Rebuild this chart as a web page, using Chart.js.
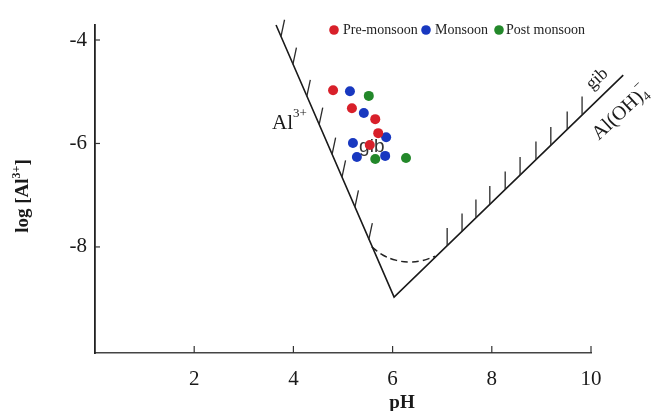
<!DOCTYPE html>
<html><head><meta charset="utf-8">
<script src="https://cdn.jsdelivr.net/npm/chart.js@4.4.1/dist/chart.umd.min.js"></script>
<style>html,body{margin:0;padding:0;background:#fff;}#wrap{width:657px;height:411px;position:relative;}</style>
</head><body><div id="wrap"><canvas id="c" width="657" height="411"></canvas></div>
<script>
// ---- data (pH, log[Al3+]) ----
const xTicks = [2, 4, 6, 8, 10];
const yTicks = [-8, -6, -4];
const boundaryPH  = [3.65, 6.03, 10.65];
const boundaryLog = [-3.71, -8.97, -4.68];
const curvePH  = [5.58, 5.81, 6.08, 6.35, 6.61, 6.86];
const curveLog = [-8.00, -8.16, -8.26, -8.29, -8.26, -8.18];
const hatchLeftPH  = [3.75, 3.99, 4.27, 4.52, 4.78, 4.98, 5.24, 5.52];
const hatchLeftLog = [-3.93, -4.47, -5.09, -5.63, -6.21, -6.65, -7.23, -7.86];
const hatchRightPH  = [7.10, 7.40, 7.68, 7.96, 8.27, 8.57, 8.89, 9.19, 9.52, 9.82];
const hatchRightLog = [-7.98, -7.70, -7.43, -7.17, -6.89, -6.61, -6.31, -6.03, -5.73, -5.44];
const preMonsoonPH  = [4.80, 5.18, 5.65, 5.71, 5.54];
const preMonsoonLog = [-4.97, -5.32, -5.53, -5.80, -6.03];
const monsoonPH  = [5.14, 5.42, 5.87, 5.20, 5.28, 5.85];
const monsoonLog = [-4.99, -5.41, -5.88, -5.99, -6.26, -6.24];
const postMonsoonPH  = [5.52, 5.65, 6.27];
const postMonsoonLog = [-5.08, -6.30, -6.28];
const seriesNames = ['Pre-monsoon', 'Monsoon', 'Post monsoon'];

// ---- styles ----
const SERIF = "'Liberation Serif','Times New Roman',serif";
const SANS = "'Liberation Sans',Arial,sans-serif";
const colors = ['#d8202a', '#1838c0', '#23882a'];
const pts = (xs, ys) => xs.map((x, i) => ({x: x, y: ys[i]}));

function drawParts(ctx, parts, x, y) {
  let cx = x;
  parts.forEach(p => {
    ctx.font = (p.bold ? 'bold ' : '') + p.size + 'px ' + (p.family || SERIF);
    ctx.fillText(p.t, cx, y + (p.dy || 0));
    if (!p.noAdvance) cx += ctx.measureText(p.t).width;
  });
  return cx - x;
}
function partsWidth(ctx, parts) {
  let w = 0;
  parts.forEach(p => { ctx.font = (p.bold ? 'bold ' : '') + p.size + 'px ' + (p.family || SERIF); if (!p.noAdvance) w += ctx.measureText(p.t).width; });
  return w;
}

const hatchPlugin = {
  id: 'hatch',
  afterDatasetsDraw(chart) {
    const ctx = chart.ctx;
    chart.data.datasets.forEach((d, i) => {
      if (!d.hatch) return;
      const meta = chart.getDatasetMeta(i);
      const a = d.hatch.angle * Math.PI / 180;
      ctx.save();
      ctx.strokeStyle = '#2a2a2a';
      ctx.lineWidth = 1.3;
      meta.data.forEach(pt => {
        ctx.beginPath();
        ctx.moveTo(pt.x, pt.y);
        ctx.lineTo(pt.x + Math.sin(a) * d.hatch.len, pt.y - Math.cos(a) * d.hatch.len);
        ctx.stroke();
      });
      ctx.restore();
    });
  }
};

const decoPlugin = {
  id: 'deco',
  beforeDatasetsDraw(chart) {
    const ctx = chart.ctx, xs = chart.scales.x, ys = chart.scales.y;
    ctx.save();
    ctx.fillStyle = '#333';
    ctx.textBaseline = 'middle';
    ctx.textAlign = 'center';
    ctx.font = '19px ' + SANS;
    ctx.fillText('gib', xs.getPixelForValue(5.58), ys.getPixelForValue(-6.07));
    ctx.restore();
  },
  afterDraw(chart) {
    const ctx = chart.ctx, xs = chart.scales.x, ys = chart.scales.y;
    const a = chart.chartArea;
    ctx.save();
    ctx.fillStyle = '#1a1a1a';
    ctx.strokeStyle = '#333';
    ctx.lineWidth = 1.2;
    xTicks.forEach(v => {
      const px = xs.getPixelForValue(v);
      ctx.beginPath(); ctx.moveTo(px, a.bottom); ctx.lineTo(px, a.bottom - 7); ctx.stroke();
    });
    yTicks.forEach(v => {
      const py = ys.getPixelForValue(v);
      ctx.beginPath(); ctx.moveTo(a.left, py); ctx.lineTo(a.left + 5, py); ctx.stroke();
    });
    ctx.textAlign = 'left';
    ctx.textBaseline = 'alphabetic';
    drawParts(ctx, [{t: 'Al', size: 21}, {t: '3+', size: 13, dy: -12}],
      xs.getPixelForValue(3.57), ys.getPixelForValue(-5.72));
    const ang = -42.8 * Math.PI / 180;
    ctx.save();
    ctx.translate(xs.getPixelForValue(10.12), ys.getPixelForValue(-4.75));
    ctx.rotate(ang);
    ctx.textAlign = 'center';
    ctx.font = '18px ' + SERIF;
    ctx.fillText('gib', 0, 5);
    ctx.restore();
    ctx.save();
    ctx.translate(xs.getPixelForValue(10.58), ys.getPixelForValue(-5.41));
    ctx.rotate(ang);
    const ohParts = [{t: 'Al(OH)', size: 20}, {t: '\u2212', size: 13, dy: -11, noAdvance: true}, {t: '4', size: 13, dy: 4}];
    const w = partsWidth(ctx, ohParts);
    drawParts(ctx, ohParts, -w / 2, 6);
    ctx.restore();
    ctx.save();
    ctx.translate(21, 196);
    ctx.rotate(-Math.PI / 2);
    const yt = [{t: 'log [Al', size: 19, bold: true}, {t: '3+', size: 12, bold: true, dy: -8}, {t: ']', size: 19, bold: true}];
    drawParts(ctx, yt, -partsWidth(ctx, yt) / 2, 7);
    ctx.restore();
    ctx.textAlign = 'center';
    ctx.font = 'bold 19px ' + SERIF;
    ctx.fillText('pH', 402, 408);
    const legendX = [[334, 343], [426, 435], [499, 506]];
    ctx.textAlign = 'left';
    ctx.font = '14px ' + SERIF;
    seriesNames.forEach((n, i) => {
      ctx.fillStyle = colors[i];
      ctx.beginPath(); ctx.arc(legendX[i][0], 30, 4.8, 0, Math.PI * 2); ctx.fill();
      ctx.fillStyle = '#222';
      ctx.fillText(n, legendX[i][1], 34);
    });
    ctx.restore();
  }
};

new Chart(document.getElementById('c'), {
  type: 'scatter',
  data: {
    datasets: [
      {label: 'Gibbsite boundary', data: pts(boundaryPH, boundaryLog), showLine: true, borderColor: '#1a1a1a', borderWidth: 1.6, pointRadius: 0, clip: false},
      {label: 'Dashed boundary', data: pts(curvePH, curveLog), showLine: true, borderColor: '#222', borderWidth: 1.5, borderDash: [7, 4], tension: 0.4, pointRadius: 0, clip: false},
      {label: 'hatch Al3+', data: pts(hatchLeftPH, hatchLeftLog), pointRadius: 0, hatch: {angle: 12, len: 17}, clip: false},
      {label: 'hatch Al(OH)4', data: pts(hatchRightPH, hatchRightLog), pointRadius: 0, hatch: {angle: 0, len: 18}, clip: false},
      {label: seriesNames[0], data: pts(preMonsoonPH, preMonsoonLog), pointRadius: 5, backgroundColor: colors[0], borderWidth: 0},
      {label: seriesNames[1], data: pts(monsoonPH, monsoonLog), pointRadius: 5, backgroundColor: colors[1], borderWidth: 0},
      {label: seriesNames[2], data: pts(postMonsoonPH, postMonsoonLog), pointRadius: 5, backgroundColor: colors[2], borderWidth: 0}
    ]
  },
  options: {
    responsive: false,
    animation: false,
    events: [],
    layout: {padding: {top: 25, right: 66, left: 0, bottom: 0}},
    plugins: {legend: {display: false}, tooltip: {enabled: false}},
    scales: {
      x: {
        type: 'linear', min: 0, max: 10,
        afterBuildTicks: s => { s.ticks = xTicks.map(v => ({value: v})); },
        afterFit: s => { s.height = 58; },
        grid: {display: false},
        border: {display: true, color: '#444', width: 1.4},
        ticks: {color: '#1a1a1a', padding: 6, font: {family: SERIF, size: 21}, maxRotation: 0, autoSkip: false}
      },
      y: {
        type: 'linear', min: -10.05, max: -3.71,
        afterBuildTicks: s => { s.ticks = yTicks.map(v => ({value: v})); },
        afterFit: s => { s.width = 95; },
        grid: {display: false},
        border: {display: true, color: '#222', width: 1.8},
        ticks: {color: '#1a1a1a', padding: 0, font: {family: SERIF, size: 21}, autoSkip: false}
      }
    }
  },
  plugins: [hatchPlugin, decoPlugin]
});
</script>
</body></html>
